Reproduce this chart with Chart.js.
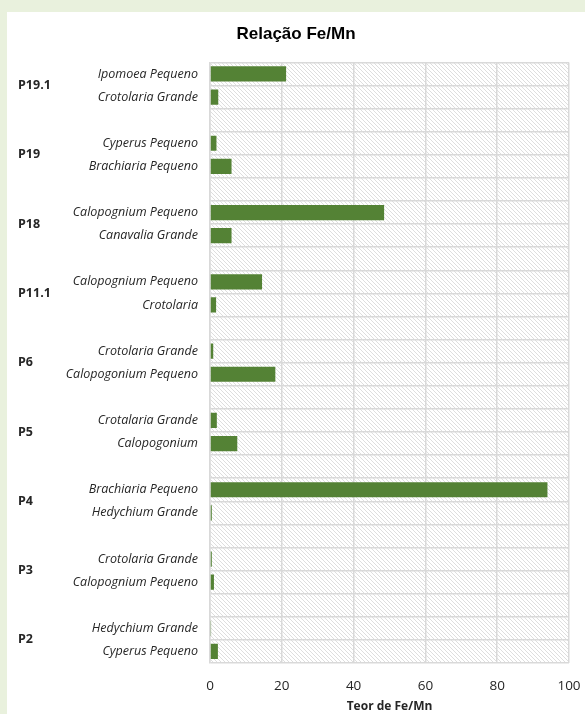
<!DOCTYPE html>
<html>
<head>
<meta charset="utf-8">
<script src="https://cdn.jsdelivr.net/npm/chart.js@4.4.0/dist/chart.umd.min.js"></script>
<style>
  html, body { margin: 0; padding: 0; background: #e9f1dd; }
  #painel { position: absolute; left: 7px; top: 12px; width: 578px; height: 702px; background: #ffffff; }
</style>
</head>
<body>
<div id="painel"><canvas id="grafico" width="578" height="702"></canvas></div>
<script>
// dados (de cima para baixo), linha vazia entre os grupos
const grupos = ["P19.1", "P19", "P18", "P11.1", "P6", "P5", "P4", "P3", "P2"];
const rotulos = [
  "Ipomoea Pequeno", "Crotolaria Grande", "",
  "Cyperus Pequeno", "Brachiaria Pequeno", "",
  "Calopognium Pequeno", "Canavalia Grande", "",
  "Calopognium Pequeno", "Crotolaria", "",
  "Crotolaria Grande", "Calopogonium Pequeno", "",
  "Crotalaria Grande", "Calopogonium", "",
  "Brachiaria Pequeno", "Hedychium Grande", "",
  "Crotolaria Grande", "Calopognium Pequeno", "",
  "Hedychium Grande", "Cyperus Pequeno"
];
const valores = [
  21.2, 2.3, null,
  1.8, 6.0, null,
  48.5, 6.0, null,
  14.5, 1.7, null,
  0.9, 18.2, null,
  1.9, 7.6, null,
  94.0, 0.5, null,
  0.5, 1.1, null,
  0.3, 2.2
];
const ticksX = [0, 20, 40, 60, 80, 100];

function criaHachura() {
  var c = document.createElement("canvas");
  c.width = 4; c.height = 4;
  var g = c.getContext("2d");
  g.strokeStyle = "#dedede";
  g.lineWidth = 1;
  g.beginPath();
  g.moveTo(-1, -1); g.lineTo(5, 5);
  g.moveTo(-1, 3); g.lineTo(1, 5);
  g.moveTo(3, -1); g.lineTo(5, 1);
  g.stroke();
  return g.createPattern(c, "repeat");
}

const fundoHachurado = {
  id: "fundoHachurado",
  beforeDraw: function (chart) {
    var a = chart.chartArea, ctx = chart.ctx;
    ctx.save();
    ctx.fillStyle = criaHachura();
    ctx.fillRect(a.left, a.top, a.right - a.left, a.bottom - a.top);
    ctx.restore();
  }
};

const rotulosGrupo = {
  id: "rotulosGrupo",
  afterDraw: function (chart) {
    var y = chart.scales.y, ctx = chart.ctx;
    ctx.save();
    ctx.font = "bold 12.5px 'Open Sans'";
    ctx.fillStyle = "#262626";
    ctx.textAlign = "left";
    ctx.textBaseline = "middle";
    grupos.forEach(function (nome, i) {
      var py = (y.getPixelForValue(i * 3) + y.getPixelForValue(i * 3 + 1)) / 2;
      ctx.fillText(nome, 11, py);
    });
    ctx.restore();
  }
};

new Chart(document.getElementById("grafico"), {
  type: "bar",
  data: {
    labels: rotulos,
    datasets: [{
      data: valores,
      backgroundColor: "#548235",
      borderWidth: 0,
      barPercentage: 0.66,
      categoryPercentage: 1
    }]
  },
  options: {
    indexAxis: "y",
    responsive: false,
    animation: false,
    layout: { padding: { right: 0 } },
    plugins: {
      legend: { display: false },
      tooltip: { enabled: false },
      title: {
        display: true,
        text: "Relação Fe/Mn",
        color: "#000000",
        font: { family: "'Liberation Sans'", size: 17, weight: "bold" },
        padding: { top: 12, bottom: 18 }
      }
    },
    scales: {
      y: {
        afterFit: function (s) { s.width = 203; },
        grid: { color: "#d9d9d9", lineWidth: 1.5, drawTicks: false },
        border: { color: "#d9d9d9", width: 1.5 },
        ticks: {
          autoSkip: false,
          padding: 12,
          color: "#262626",
          font: { family: "'Open Sans'", size: 12.5, style: "italic" }
        }
      },
      x: {
        min: 0,
        max: 100,
        afterBuildTicks: function (s) { s.ticks = ticksX.map(function (v) { return { value: v }; }); },
        afterFit: function (s) { s.height = 51; s.paddingRight = 16; },
        grid: { color: "#d9d9d9", lineWidth: 1.5, drawTicks: false },
        border: { display: false },
        ticks: {
          padding: 15,
          color: "#262626",
          font: { family: "'Open Sans'", size: 13.5 }
        },
        title: {
          display: true,
          text: "Teor de Fe/Mn",
          color: "#262626",
          font: { family: "'Open Sans'", size: 12, weight: "bold" },
          padding: { top: 0, bottom: 0 }
        }
      }
    }
  },
  plugins: [fundoHachurado, rotulosGrupo]
});
</script>
</body>
</html>
